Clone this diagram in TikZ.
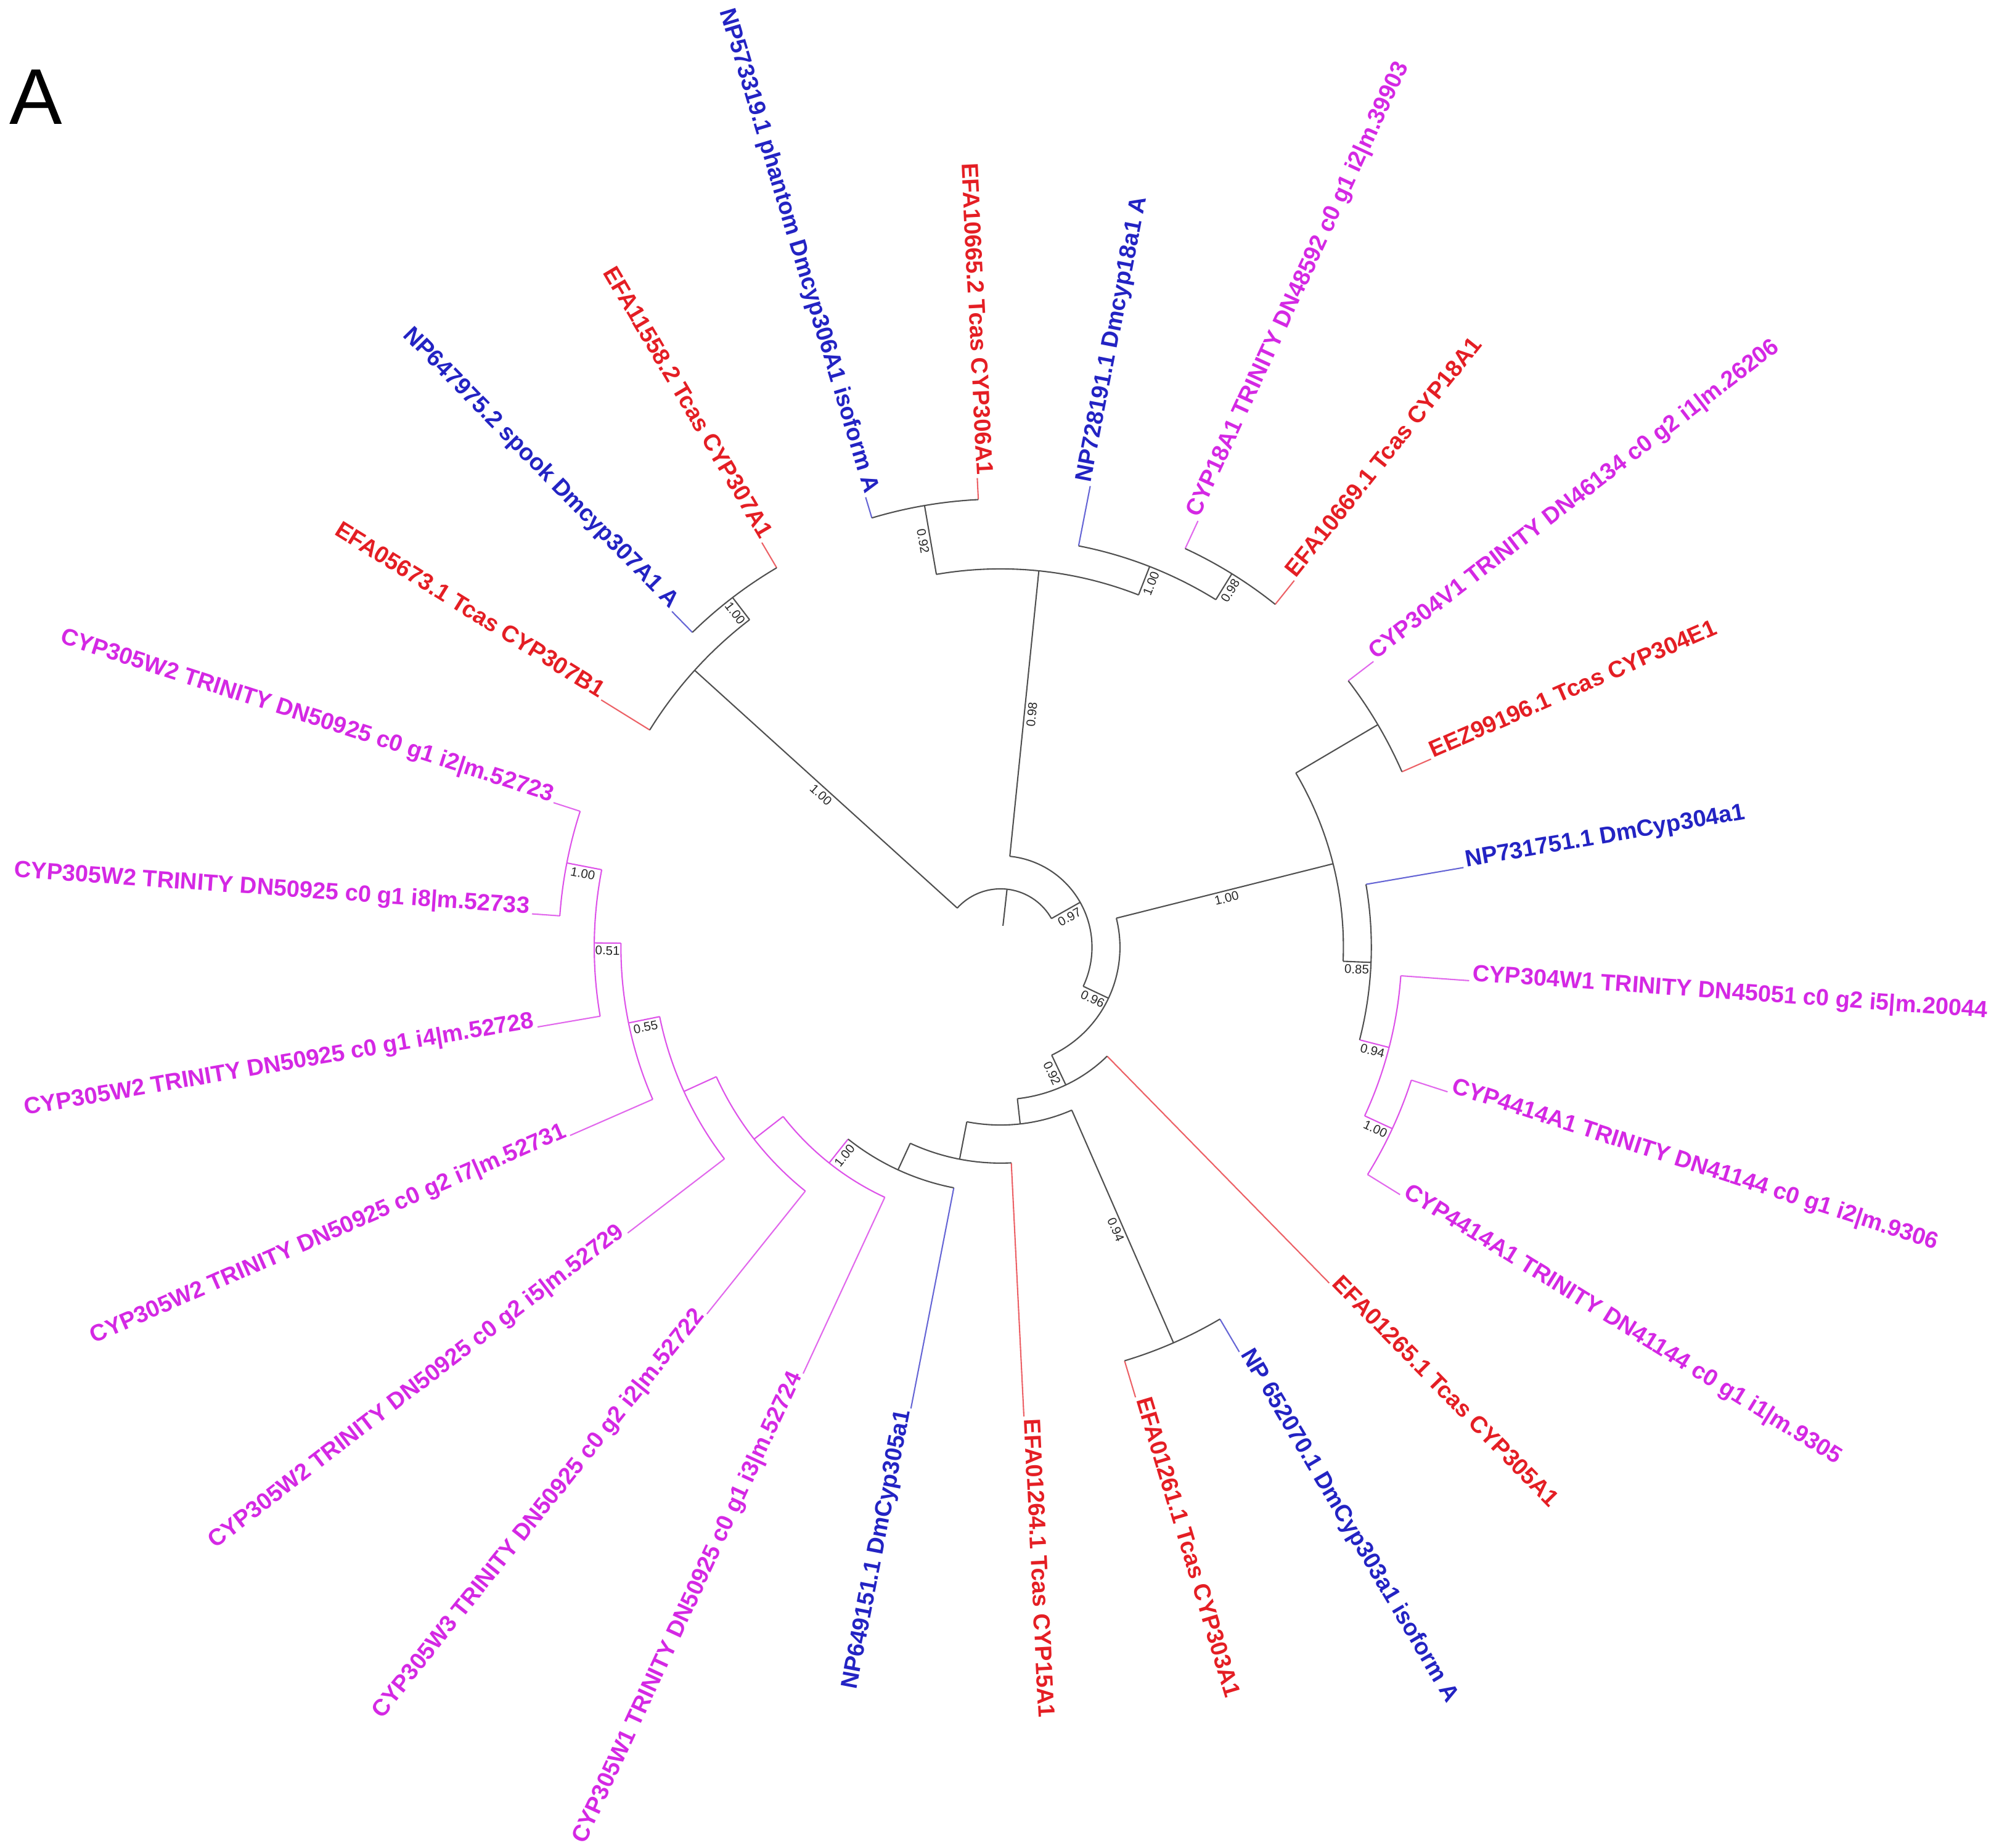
\documentclass[tikz,border=0pt]{standalone}
\usepackage{fontspec}
\setmainfont{Liberation Sans}
\usetikzlibrary{calc}
\definecolor{dblue}{RGB}{35,35,195}
\definecolor{tred}{RGB}{228,30,36}
\definecolor{tmag}{RGB}{212,40,228}
\definecolor{brc}{RGB}{80,80,80}
\begin{document}
\begin{tikzpicture}[x=0.0206cm, y=0.0206cm,
  br/.style={draw=brc, line width=0.6pt},
  brm/.style={draw=tmag!80, line width=0.6pt},
  lfr/.style={font=\fontsize{10.8}{13}\selectfont\bfseries, inner sep=0pt, anchor=base west},
  lfl/.style={font=\fontsize{10.8}{13}\selectfont\bfseries, inner sep=0pt, anchor=base east},
  sup/.style={font=\fontsize{5.8}{7}\selectfont, inner sep=1.2pt, anchor=north, text=black!85}]
\useasboundingbox (-788,-709) rectangle (780,746);

% ---------- leaves, right side ----------
\foreach \i/\ang/\rr/\col/\lab in {
 1/79/322/dblue/NP728191.1 Dmcyp18a1 A,
 2/65.154/346/tmag/CYP18A1 TRINITY DN48592 c0 g1 i2|m.39903,
 3/51.308/346/tred/EFA10669.1 Tcas CYP18A1,
 4/37.462/345/tmag/CYP304V1 TRINITY DN46134 c0 g2 i1|m.26206,
 5/23.615/345/tred/EEZ99196.1 Tcas CYP304E1,
 6/9.769/292/dblue/NP731751.1 DmCyp304a1,
 7/-4.077/316/tmag/CYP304W1 TRINITY DN45051 c0 g2 i5|m.20044,
 8/-17.923/340/tmag/CYP4414A1 TRINITY DN41144 c0 g1 i2|m.9306,
 9/-31.769/340/tmag/CYP4414A1 TRINITY DN41144 c0 g1 i1|m.9305,
 10/-45.615/120/tred/EFA01265.1 Tcas CYP305A1,
 11/-59.462/340/dblue/NP 652070.1 DmCyp303a1 isoform A,
 12/-73.308/340/tred/EFA01261.1 Tcas CYP303A1,
 13/-87.154/170/tred/EFA01264.1 Tcas CYP15A1}{
 \coordinate (b\i) at (\ang:\rr);
 \coordinate (t\i) at (\ang:370);
 \draw[draw=\col!70, line width=0.6pt] (b\i) -- (t\i);
 \node[lfr, text=\col, rotate=\ang] (L\i) at (\ang:372) {\lab};
}
% ---------- leaves, left side ----------
\foreach \i/\ang/\rr/\col/\lab in {
 14/-101/193/dblue/NP649151.1 DmCyp305a1,
 15/-114.846/217/tmag/CYP305W1 TRINITY DN50925 c0 g1 i3|m.52724,
 16/-128.692/246/tmag/CYP305W3 TRINITY DN50925 c0 g2 i2|m.52722,
 17/-142.538/274/tmag/CYP305W2 TRINITY DN50925 c0 g2 i5|m.52729,
 18/-156.385/299/tmag/CYP305W2 TRINITY DN50925 c0 g2 i7|m.52731,
 19/-170.231/320/tmag/CYP305W2 TRINITY DN50925 c0 g1 i4|m.52728,
 20/-184.077/348/tmag/CYP305W2 TRINITY DN50925 c0 g1 i8|m.52733,
 21/-197.923/348/tmag/CYP305W2 TRINITY DN50925 c0 g1 i2|m.52723,
 22/148.231/325/tred/EFA05673.1 Tcas CYP307B1,
 23/134.385/347/dblue/NP647975.2 spook Dmcyp307A1 A,
 24/120.538/347/tred/EFA11558.2 Tcas CYP307A1,
 25/106.692/353/dblue/NP573319.1 phantom Dmcyp306A1 isoform A,
 26/92.846/353/tred/EFA10665.2 Tcas CYP306A1}{
 \coordinate (b\i) at (\ang:\rr);
 \coordinate (t\i) at (\ang:370);
 \draw[draw=\col!70, line width=0.6pt] (b\i) -- (t\i);
 \node[lfl, text=\col, rotate={\ang+180}] (L\i) at (\ang:372) {\lab};
}

% ---------- internal node coordinates ----------
\coordinate (rootin) at (83.653:17); \coordinate (root) at (83.653:46);
\coordinate (Ab) at (137.846:46);   \coordinate (A) at (137.846:325);
\coordinate (Bb) at (127.462:325);  \coordinate (B) at (127.462:347);
\coordinate (N1b) at (29.46:46);    \coordinate (N1) at (29.46:72);
\coordinate (Xb) at (84.192:72);    \coordinate (X) at (84.192:298);
\coordinate (Yb) at (99.769:298);   \coordinate (Y) at (99.769:353);
\coordinate (Zb) at (68.615:298);   \coordinate (Z) at (68.615:322);
\coordinate (Wb) at (58.231:322);   \coordinate (W) at (58.231:346);
\coordinate (N2b) at (-25.272:72);  \coordinate (N2) at (-25.272:94);
\coordinate (Rb) at (14.096:94);    \coordinate (R) at (14.096:270);
\coordinate (Sb) at (30.538:270);   \coordinate (S) at (30.538:345);
\coordinate (Tb) at (-2.346:270);   \coordinate (T) at (-2.346:292);
\coordinate (Ub) at (-14.462:292);  \coordinate (U) at (-14.462:316);
\coordinate (Vb) at (-24.846:316);  \coordinate (V) at (-24.846:340);
\coordinate (N3b) at (-64.64:94);   \coordinate (N3) at (-64.64:120);
\coordinate (N4b) at (-83.666:120); \coordinate (N4) at (-83.666:140);
\coordinate (N5b) at (-66.385:140); \coordinate (N5) at (-66.385:340);
\coordinate (N6b) at (-100.946:140);\coordinate (N6) at (-100.946:170);
\coordinate (N7b) at (-114.738:170);\coordinate (N7) at (-114.738:193);
\coordinate (P6b) at (-128.476:193);\coordinate (P6) at (-128.476:217);
\coordinate (P5b) at (-142.106:217);\coordinate (P5) at (-142.106:246);
\coordinate (P4b) at (-155.519:246);\coordinate (P4) at (-155.519:274);
\coordinate (P3b) at (-168.5:274);  \coordinate (P3) at (-168.5:299);
\coordinate (P2b) at (-180.615:299);\coordinate (P2) at (-180.615:320);
\coordinate (P1b) at (-191:320);    \coordinate (P1) at (-191:348);

% ---------- radial branches ----------
\draw[br] (rootin) -- (root);
\draw[br] (Ab) -- (A);
\draw[br] (Bb) -- (B);
\draw[br] (N1b) -- (N1);
\draw[br] (Xb) -- (X);
\draw[br] (Yb) -- (Y);
\draw[br] (Zb) -- (Z);
\draw[br] (Wb) -- (W);
\draw[br] (N2b) -- (N2);
\draw[br] (Rb) -- (R);
\draw[br] (Sb) -- (S);
\draw[br] (Tb) -- (T);
\draw[brm] (Ub) -- (U);
\draw[brm] (Vb) -- (V);
\draw[br] (N3b) -- (N3);
\draw[br] (N4b) -- (N4);
\draw[br] (N5b) -- (N5);
\draw[br] (N6b) -- (N6);
\draw[br] (N7b) -- (N7);
\draw[brm] (P6b) -- (P6);
\draw[brm] (P5b) -- (P5);
\draw[brm] (P4b) -- (P4);
\draw[brm] (P3b) -- (P3);
\draw[brm] (P2b) -- (P2);
\draw[brm] (P1b) -- (P1);

% ---------- arcs ----------
\draw[br] (Ab) arc[start angle=137.846, end angle=29.46, radius=46];
\draw[br] (b22) arc[start angle=148.231, end angle=127.462, radius=325];
\draw[br] (b23) arc[start angle=134.385, end angle=120.538, radius=347];
\draw[br] (Xb) arc[start angle=84.192, end angle=-25.272, radius=72];
\draw[br] (Yb) arc[start angle=99.769, end angle=68.615, radius=298];
\draw[br] (b25) arc[start angle=106.692, end angle=92.846, radius=353];
\draw[br] (b1) arc[start angle=79, end angle=58.231, radius=322];
\draw[br] (b2) arc[start angle=65.154, end angle=51.308, radius=346];
\draw[br] (Rb) arc[start angle=14.096, end angle=-64.64, radius=94];
\draw[br] (Sb) arc[start angle=30.538, end angle=-2.346, radius=270];
\draw[br] (b4) arc[start angle=37.462, end angle=23.615, radius=345];
\draw[br] (b6) arc[start angle=9.769, end angle=-14.462, radius=292];
\draw[brm] (b7) arc[start angle=-4.077, end angle=-24.846, radius=316];
\draw[brm] (b8) arc[start angle=-17.923, end angle=-31.769, radius=340];
\draw[br] (b10) arc[start angle=-45.615, end angle=-83.666, radius=120];
\draw[br] (N5b) arc[start angle=-66.385, end angle=-100.946, radius=140];
\draw[br] (b11) arc[start angle=-59.462, end angle=-73.308, radius=340];
\draw[br] (b13) arc[start angle=-87.154, end angle=-114.738, radius=170];
\draw[br] (b14) arc[start angle=-101, end angle=-128.476, radius=193];
\draw[brm] (b15) arc[start angle=-114.846, end angle=-142.106, radius=217];
\draw[brm] (b16) arc[start angle=-128.692, end angle=-155.519, radius=246];
\draw[brm] (b17) arc[start angle=-142.538, end angle=-168.5, radius=274];
\draw[brm] (b18) arc[start angle=-156.385, end angle=-180.615, radius=299];
\draw[brm] (b19) arc[start angle=-170.231, end angle=-191, radius=320];
\draw[brm] (b20) arc[start angle=-184.077, end angle=-197.923, radius=348];

% ---------- support values ----------
\node[sup, rotate=-42.154] (sA) at ($(Ab)!0.5!(A)$) {1.00};
\node[sup, rotate=-52.538] (sB) at ($(Bb)!0.5!(B)$) {1.00};
\node[sup, rotate=84.192] (sX) at ($(Xb)!0.5!(X)$) {0.98};
\node[sup, rotate=-80.231] (sY) at ($(Yb)!0.5!(Y)$) {0.92};
\node[sup, rotate=68.615] (sZ) at ($(Zb)!0.5!(Z)$) {1.00};
\node[sup, rotate=58.231] (sW) at ($(Wb)!0.5!(W)$) {0.98};
\node[sup, rotate=29.46] (sN1) at ($(N1b)!0.5!(N1)$) {0.97};
\node[sup, rotate=-25.272] (sN2) at ($(N2b)!0.5!(N2)$) {0.96};
\node[sup, rotate=14.096] (sR) at ($(Rb)!0.5!(R)$) {1.00};
\node[sup, rotate=-2.346] (sT) at ($(Tb)!0.5!(T)$) {0.85};
\node[sup, rotate=-14.462] (sU) at ($(Ub)!0.5!(U)$) {0.94};
\node[sup, rotate=-24.846] (sV) at ($(Vb)!0.5!(V)$) {1.00};
\node[sup, rotate=-64.64] (sN3) at ($(N3b)!0.5!(N3)$) {0.92};
\node[sup, rotate=-66.385] (sN5) at ($(N5b)!0.5!(N5)$) {0.94};
\node[sup, rotate=51.524] (sP6) at ($(P6b)!0.5!(P6)$) {1.00};
\node[sup, rotate=11.5] (sP3) at ($(P3b)!0.5!(P3)$) {0.55};
\node[sup, rotate=-0.615] (sP2) at ($(P2b)!0.5!(P2)$) {0.51};
\node[sup, rotate=-11] (sP1) at ($(P1b)!0.5!(P1)$) {1.00};

% ---------- panel letter ----------
\node[anchor=base west, inner sep=0pt, font=\fontsize{36.5}{40}\selectfont] (panel) at (-781,648.4) {A};
\end{tikzpicture}
\end{document}
